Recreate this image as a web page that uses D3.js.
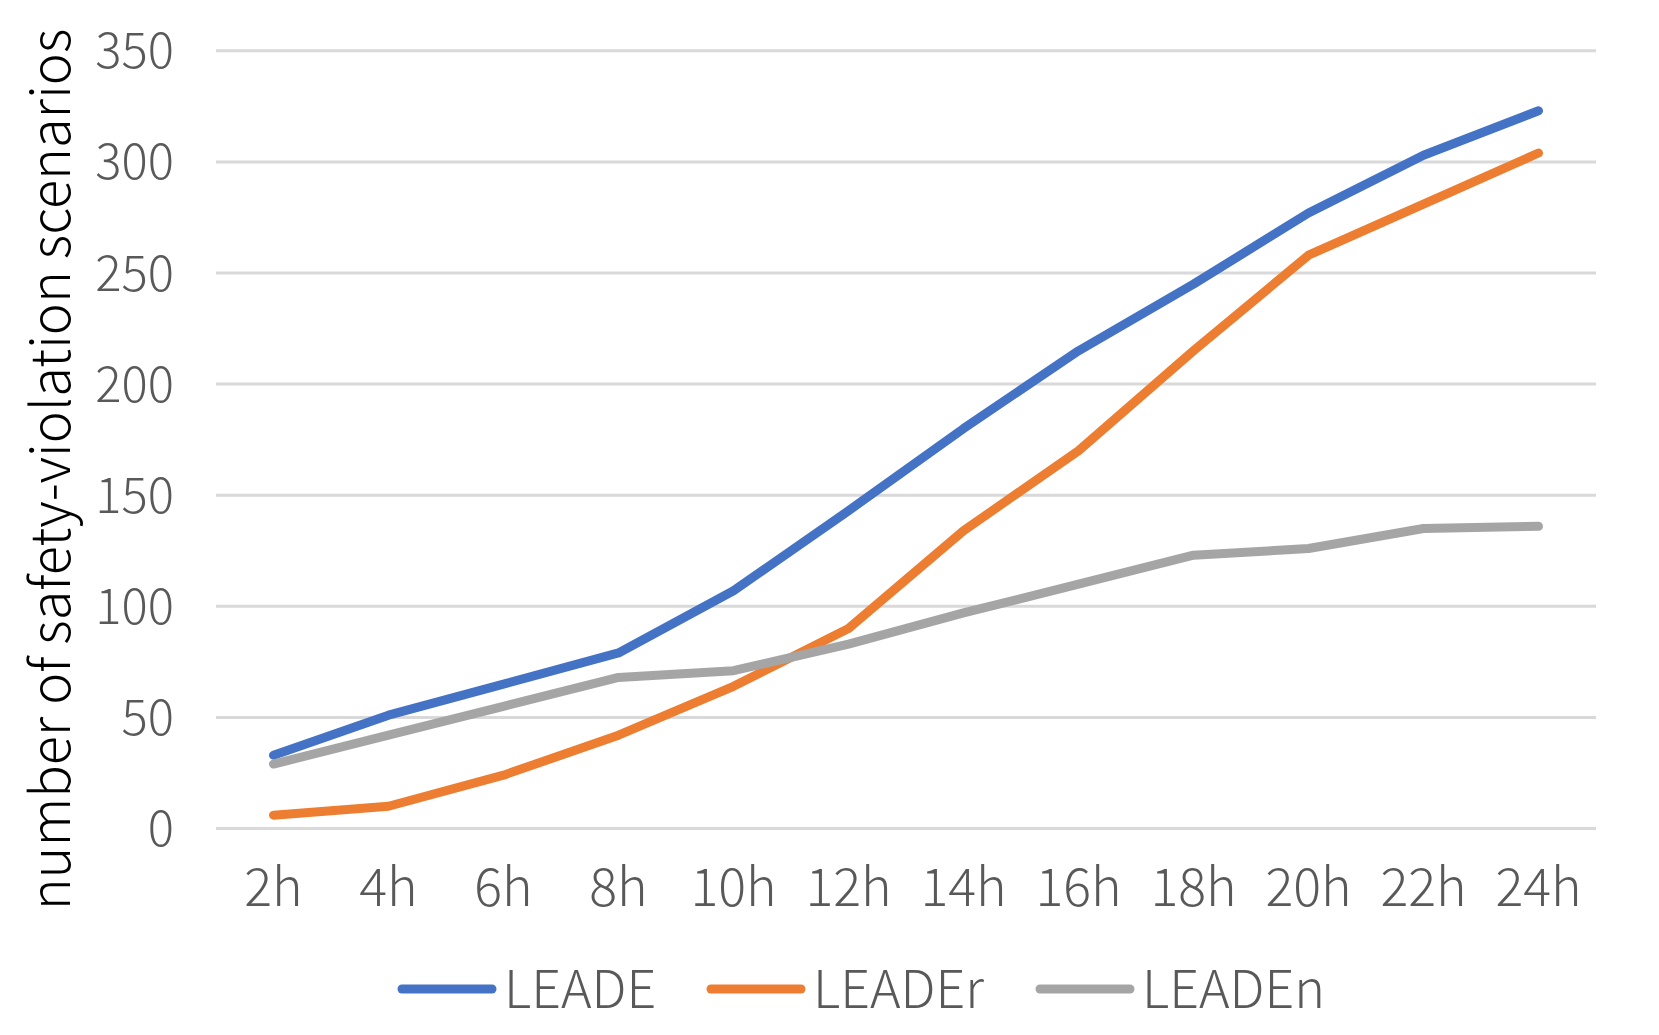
<!DOCTYPE html>
<html>
<head>
<meta charset="utf-8">
<script src="https://cdn.jsdelivr.net/npm/d3@7"></script>
<style>
html,body{margin:0;padding:0;background:#fff;}
svg{display:block;}
text{font-family:"Noto Sans CJK SC","Noto Sans",sans-serif;font-weight:300;}
</style>
</head>
<body>
<svg id="chart" width="1659" height="1035"></svg>
<script>
const categories = ["2h","4h","6h","8h","10h","12h","14h","16h","18h","20h","22h","24h"];
const leade  = [33, 51, 65, 79, 107, 143, 180, 215, 245, 277, 303, 323];
const leader = [6, 10, 24, 42, 64, 90, 134, 170, 215, 258, 281, 304];
const leaden = [29, 42, 55, 68, 71, 83, 97, 110, 123, 126, 135, 136];
const seriesNames = ["LEADE","LEADEr","LEADEn"];
const seriesColors = ["#4472C4","#ED7D31","#A5A5A5"];
const yTicks = [0,50,100,150,200,250,300,350];
const yTitle = "number of safety-violation scenarios";

const series = [leade, leader, leaden];
const svg = d3.select("#chart");

const x = d3.scaleBand().domain(categories).range([216, 1596]);
const y = d3.scaleLinear().domain([0, 350]).range([828.5, 50.8]);

// gridlines
svg.append("g").selectAll("line").data(yTicks).join("line")
  .attr("x1", x.range()[0]).attr("x2", x.range()[1])
  .attr("y1", d => y(d)).attr("y2", d => y(d))
  .attr("stroke", "#D9D9D9").attr("stroke-width", 3);

// y tick labels
svg.append("g").selectAll("text").data(yTicks).join("text")
  .attr("x", 174).attr("y", d => y(d) + 17.5)
  .attr("text-anchor", "end")
  .attr("fill", "#595959").attr("font-size", 49)
  .text(d => d);

// x tick labels
svg.append("g").selectAll("text").data(categories).join("text")
  .attr("x", d => x(d) + x.bandwidth()/2).attr("y", 906)
  .attr("text-anchor", "middle")
  .attr("fill", "#595959").attr("font-size", 52)
  .text(d => d);

// y title
svg.append("text")
  .attr("transform", "translate(70,469.5) rotate(-90)")
  .attr("text-anchor", "middle")
  .attr("fill", "#000").attr("font-size", 54)
  .text(yTitle);

// lines
const line = d3.line()
  .x((d, i) => x(categories[i]) + x.bandwidth()/2)
  .y(d => y(d));
series.forEach((s, k) => {
  svg.append("path").datum(s)
    .attr("d", line)
    .attr("fill", "none")
    .attr("stroke", seriesColors[k])
    .attr("stroke-width", 9)
    .attr("stroke-linecap", "round")
    .attr("stroke-linejoin", "round");
});

// legend
const legendX = [402, 711, 1040];
const lg = svg.append("g");
seriesNames.forEach((n, k) => {
  lg.append("line")
    .attr("x1", legendX[k]).attr("x2", legendX[k] + 90)
    .attr("y1", 989).attr("y2", 989)
    .attr("stroke", seriesColors[k]).attr("stroke-width", 9)
    .attr("stroke-linecap", "round");
  lg.append("text")
    .attr("x", legendX[k] + 102).attr("y", 1008)
    .attr("fill", "#595959").attr("font-size", 52)
    .text(n);
});
</script>
</body>
</html>
